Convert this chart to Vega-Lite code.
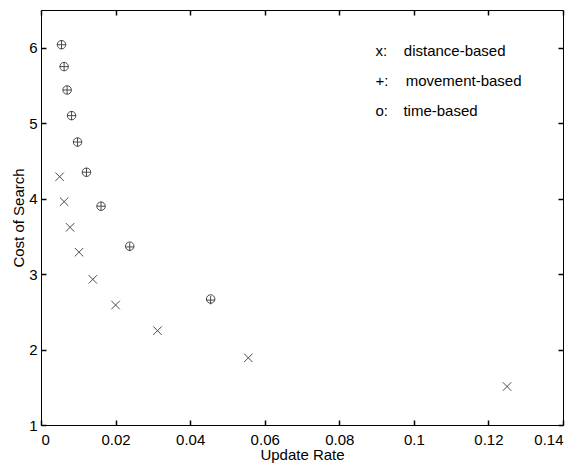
{
  "$schema": "https://vega.github.io/schema/vega-lite/v6.json",
  "width": 522,
  "height": 415,
  "autosize": {"type": "none"},
  "padding": {"left": 41, "top": 10, "right": 18, "bottom": 38},
  "background": "white",
  "config": {
    "view": {"stroke": "black", "strokeWidth": 1},
    "font": "Liberation Sans",
    "axis": {"grid": false, "domain": false, "ticks": true, "tickColor": "black", "tickWidth": 1.5, "tickSize": 5, "offset": -5, "labelColor": "black", "titleColor": "black", "labelFont": "Liberation Sans", "titleFont": "Liberation Sans", "labelFontSize": 15, "titleFontSize": 15, "titleFontWeight": "normal"}
  },
  "resolve": {"axis": {"x": "independent", "y": "independent"}},
  "layer": [
    {
      "data": {"values": [
        {"series": "distance-based", "rate": 0.125, "cost": 1.51},
        {"series": "distance-based", "rate": 0.0556, "cost": 1.89},
        {"series": "distance-based", "rate": 0.03125, "cost": 2.25},
        {"series": "distance-based", "rate": 0.02, "cost": 2.59},
        {"series": "distance-based", "rate": 0.0139, "cost": 2.93},
        {"series": "distance-based", "rate": 0.0102, "cost": 3.29},
        {"series": "distance-based", "rate": 0.0078, "cost": 3.62},
        {"series": "distance-based", "rate": 0.0062, "cost": 3.96},
        {"series": "distance-based", "rate": 0.005, "cost": 4.29},
        {"series": "movement-based", "rate": 0.0455, "cost": 2.655},
        {"series": "movement-based", "rate": 0.0238, "cost": 3.36},
        {"series": "movement-based", "rate": 0.0161, "cost": 3.9},
        {"series": "movement-based", "rate": 0.0122, "cost": 4.35},
        {"series": "movement-based", "rate": 0.0098, "cost": 4.75},
        {"series": "movement-based", "rate": 0.0082, "cost": 5.1},
        {"series": "movement-based", "rate": 0.007, "cost": 5.44},
        {"series": "movement-based", "rate": 0.0062, "cost": 5.75},
        {"series": "movement-based", "rate": 0.0055, "cost": 6.04},
        {"series": "time-based", "rate": 0.0455, "cost": 2.67},
        {"series": "time-based", "rate": 0.0238, "cost": 3.37},
        {"series": "time-based", "rate": 0.0161, "cost": 3.9},
        {"series": "time-based", "rate": 0.0122, "cost": 4.35},
        {"series": "time-based", "rate": 0.0098, "cost": 4.75},
        {"series": "time-based", "rate": 0.0082, "cost": 5.1},
        {"series": "time-based", "rate": 0.007, "cost": 5.44},
        {"series": "time-based", "rate": 0.0062, "cost": 5.75},
        {"series": "time-based", "rate": 0.0055, "cost": 6.04}
      ]},
      "mark": {"type": "point", "filled": false, "stroke": "black", "strokeWidth": 1, "size": 72},
      "encoding": {
        "x": {"field": "rate", "type": "quantitative", "scale": {"domain": [0, 0.14], "nice": false, "zero": false},
          "axis": {"orient": "bottom", "values": [0, 0.02, 0.04, 0.06, 0.08, 0.1, 0.12, 0.14], "format": "~g", "title": "Update Rate", "labelPadding": 7, "titlePadding": 0}},
        "y": {"field": "cost", "type": "quantitative", "scale": {"domain": [1, 6.5], "nice": false, "zero": false},
          "axis": {"orient": "left", "values": [1, 2, 3, 4, 5, 6], "format": "~g", "title": "Cost of Search", "labelPadding": 4, "titlePadding": 2}},
        "shape": {"field": "series", "type": "nominal",
          "scale": {"domain": ["distance-based", "movement-based", "time-based"], "range": ["M-1,-1L1,1M-1,1L1,-1", "M-1,0L1,0M0,-1L0,1", "circle"]},
          "legend": null}
      }
    },
    {
      "data": {"values": [
        {"px": 0.0897, "py": 5.96, "t": "x:"},
        {"px": 0.0973, "py": 5.96, "t": "distance-based"},
        {"px": 0.0897, "py": 5.56, "t": "+:"},
        {"px": 0.0978, "py": 5.56, "t": "movement-based"},
        {"px": 0.0897, "py": 5.16, "t": "o:"},
        {"px": 0.0972, "py": 5.16, "t": "time-based"}
      ]},
      "mark": {"type": "text", "align": "left", "baseline": "middle", "fontSize": 15, "font": "Liberation Sans", "color": "black"},
      "encoding": {
        "x": {"field": "px", "type": "quantitative",
          "axis": {"orient": "top", "values": [0, 0.02, 0.04, 0.06, 0.08, 0.1, 0.12, 0.14], "labels": false, "title": null}},
        "y": {"field": "py", "type": "quantitative",
          "axis": {"orient": "right", "values": [1, 2, 3, 4, 5, 6], "labels": false, "title": null}},
        "text": {"field": "t"}
      }
    }
  ]
}
